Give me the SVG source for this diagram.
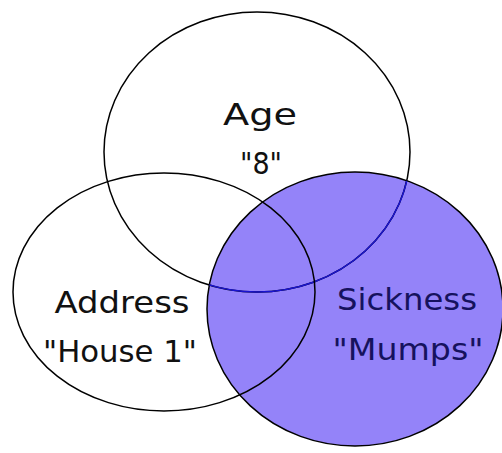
<svg xmlns="http://www.w3.org/2000/svg" width="502" height="453" viewBox="0 0 502 453">
<style>
.ring{fill:none;stroke:#000;stroke-width:1.5}
.lbl{font-family:"DejaVu Sans","Liberation Sans",sans-serif;font-size:31px;text-anchor:middle;fill:#111}
.lblb{fill:#16125e}
</style>
<defs>
<clipPath id="clipR"><ellipse cx="355" cy="309" rx="148" ry="137"/></clipPath>
</defs>
<rect width="502" height="453" fill="#fff"/>
<g id="sickness">
<ellipse cx="355" cy="309" rx="148" ry="137" fill="#9483f9" stroke="#000" stroke-width="1.5"/>
</g>
<g id="age">
<ellipse class="ring" cx="257" cy="152" rx="153" ry="140"/>
<ellipse cx="257" cy="152" rx="153" ry="140" fill="none" stroke="#1a14d0" stroke-width="1.5" clip-path="url(#clipR)"/>
<text class="lbl" x="260" y="125" textLength="74" lengthAdjust="spacingAndGlyphs">Age</text>
<text class="lbl" x="261" y="174" textLength="42" lengthAdjust="spacingAndGlyphs">"8"</text>
</g>
<g id="address">
<ellipse class="ring" cx="164" cy="292" rx="151" ry="119"/>
<text class="lbl" x="122" y="313" textLength="135" lengthAdjust="spacingAndGlyphs">Address</text>
<text class="lbl" x="120" y="362" textLength="154" lengthAdjust="spacingAndGlyphs">"House 1"</text>
</g>
<g id="sickness-labels">
<text class="lbl lblb" x="407" y="310" textLength="140" lengthAdjust="spacingAndGlyphs">Sickness</text>
<text class="lbl lblb" x="408" y="360" textLength="151" lengthAdjust="spacingAndGlyphs">"Mumps"</text>
</g>
</svg>
